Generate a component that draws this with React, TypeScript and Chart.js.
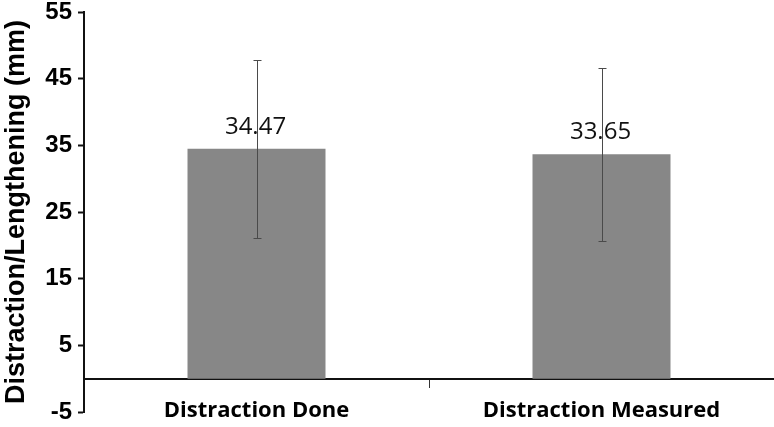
import React, { useEffect, useRef } from 'react';
import { Chart, registerables } from 'chart.js';

Chart.register(...registerables);

const categories = ['Distraction Done', 'Distraction Measured'];
const means = [34.47, 33.65];
const errHigh = [47.75, 46.6];
const errLow = [21.15, 20.7];
const valueLabels = ['34.47', '33.65'];
const yMin = -5;
const yMax = 55;
const yStep = 10;
const yTitle = 'Distraction/Lengthening (mm)';

const extrasPlugin = {
  id: 'extras',
  afterDatasetsDraw(chart: any) {
    const ctx = chart.ctx;
    const meta = chart.getDatasetMeta(0);
    const y = chart.scales.y;
    ctx.save();
    meta.data.forEach((bar: any, i: number) => {
      const x = Math.round(bar.x) + 0.5;
      const yt = Math.round(y.getPixelForValue(errHigh[i])) + 0.5;
      const yb = Math.round(y.getPixelForValue(errLow[i])) + 0.5;
      // value label
      ctx.fillStyle = '#111111';
      ctx.font = '24px "Open Sans"';
      ctx.textAlign = 'center';
      ctx.textBaseline = 'alphabetic';
      ctx.fillText(valueLabels[i], bar.x - 1, bar.y - 15);
      // error bar
      ctx.strokeStyle = '#4a4a4a';
      ctx.lineWidth = 1;
      ctx.beginPath();
      ctx.moveTo(x, yt);
      ctx.lineTo(x, yb);
      ctx.moveTo(x - 4, yt);
      ctx.lineTo(x + 4, yt);
      ctx.moveTo(x - 4, yb);
      ctx.lineTo(x + 4, yb);
      ctx.stroke();
    });
    ctx.restore();
  },
};

export default function App() {
  const ref = useRef<HTMLCanvasElement | null>(null);
  useEffect(() => {
    document.body.style.margin = '0';
    const chart = new Chart(ref.current as HTMLCanvasElement, {
      type: 'bar',
      data: {
        labels: categories,
        datasets: [
          {
            data: means,
            backgroundColor: '#878787',
            borderWidth: 0,
            barPercentage: 0.4,
            categoryPercentage: 1,
          },
        ],
      },
      plugins: [extrasPlugin],
      options: {
        animation: false,
        responsive: false,
        maintainAspectRatio: false,
        layout: { padding: { top: 12, right: 0, bottom: 15, left: 0 } },
        plugins: { legend: { display: false }, tooltip: { enabled: false } },
        scales: {
          x: {
            position: { y: 0 } as any,
            afterFit: (s: any) => {
              s.height = 0;
              s.paddingLeft = 0;
              s.paddingRight = 0;
            },
            border: { display: true, color: '#111111', width: 2 },
            grid: {
              display: true,
              offset: true,
              drawOnChartArea: false,
              drawTicks: true,
              tickLength: 8,
              tickColor: (c: any) => (c.index === 1 ? '#333333' : 'rgba(0,0,0,0)'),
              tickWidth: 1,
            },
            ticks: {
              color: '#000000',
              padding: 11,
              font: { family: '"Open Sans"', size: 22, weight: 'bold' },
            },
          },
          y: {
            min: yMin,
            max: yMax,
            afterFit: (s: any) => {
              s.width = 84;
              s.paddingTop = 0;
              s.paddingBottom = 0;
            },
            border: { display: true, color: '#111111', width: 2 },
            grid: {
              display: true,
              drawOnChartArea: false,
              drawTicks: true,
              tickLength: 6,
              tickColor: '#111111',
              tickWidth: 2,
            },
            ticks: {
              stepSize: yStep,
              color: '#000000',
              padding: 6,
              font: { family: '"Liberation Sans", Arial', size: 24, weight: 'bold' },
            },
            title: {
              display: true,
              text: yTitle,
              color: '#000000',
              padding: { top: 0, bottom: 0 },
              font: { family: '"Liberation Sans", Arial', size: 27, weight: 'bold' },
            },
          },
        },
      },
    });
    return () => chart.destroy();
  }, []);
  return <canvas ref={ref} width={774} height={427} style={{ display: 'block' }} />;
}
